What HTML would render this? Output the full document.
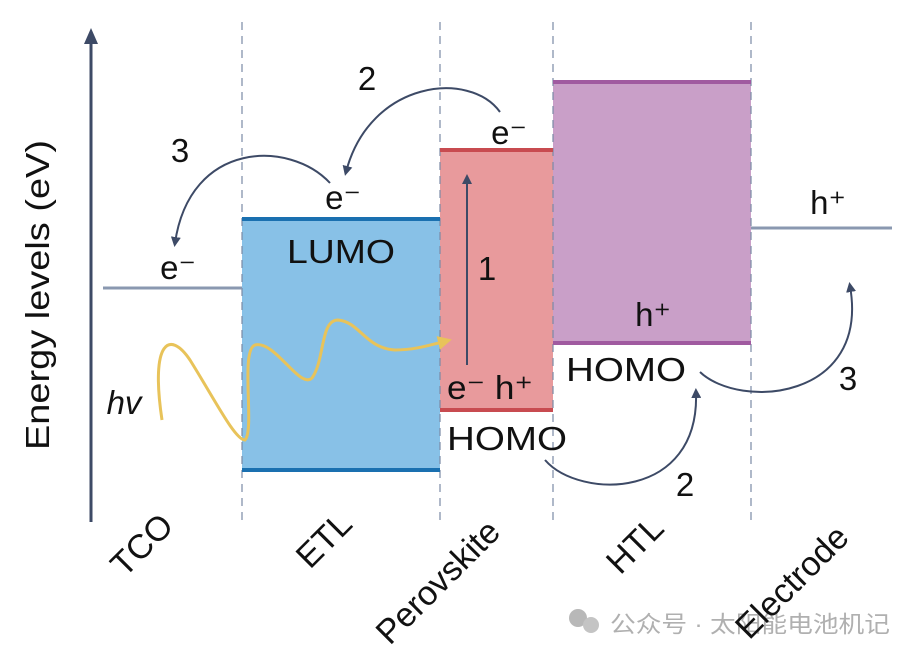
<!DOCTYPE html>
<html><head><meta charset="utf-8"><style>body{margin:0;background:#fff}svg{display:block}</style></head><body>
<svg width="922" height="658" viewBox="0 0 922 658" xmlns="http://www.w3.org/2000/svg" font-family="Liberation Sans, sans-serif">
<defs>
<marker id="a" markerWidth="10" markerHeight="10" refX="6" refY="5" orient="auto" markerUnits="userSpaceOnUse"><path d="M0,0 L10,5 L0,10 Z" fill="#3d4a66"/></marker>
<marker id="y" markerWidth="14" markerHeight="14" refX="8" refY="7" orient="auto" markerUnits="userSpaceOnUse"><path d="M0,0 L14,7 L0,14 Z" fill="#e8c35a"/></marker>
</defs>
<rect x="242" y="219" width="198" height="251" fill="#88c1e7"/>
<rect x="440" y="150" width="113" height="260" fill="#e89a9c"/>
<rect x="553" y="82" width="198" height="261" fill="#c99fc8"/>
<g stroke="#7a8aa5" stroke-width="1.2" stroke-dasharray="8,6">
<line x1="242" y1="22" x2="242" y2="520"/><line x1="440" y1="22" x2="440" y2="520"/><line x1="553" y1="22" x2="553" y2="520"/><line x1="751" y1="22" x2="751" y2="520"/>
</g>
<line x1="242" y1="219" x2="440" y2="219" stroke="#1a70b0" stroke-width="4"/>
<line x1="242" y1="470" x2="440" y2="470" stroke="#1a70b0" stroke-width="4"/>
<line x1="440" y1="150" x2="553" y2="150" stroke="#c84b50" stroke-width="4"/>
<line x1="440" y1="410" x2="553" y2="410" stroke="#c84b50" stroke-width="4"/>
<line x1="553" y1="82" x2="751" y2="82" stroke="#a05aa0" stroke-width="4"/>
<line x1="553" y1="343" x2="751" y2="343" stroke="#a05aa0" stroke-width="4"/>
<line x1="103" y1="288" x2="242" y2="288" stroke="#8a98b0" stroke-width="3"/>
<line x1="751" y1="228" x2="892" y2="228" stroke="#8a98b0" stroke-width="3"/>
<line x1="91" y1="522" x2="91" y2="40" stroke="#3d4a66" stroke-width="3"/>
<path d="M84,44 L91,28 L98,44 Z" fill="#3d4a66"/>
<line x1="467" y1="365" x2="467" y2="178" stroke="#3d4a66" stroke-width="2" marker-end="url(#a)"/>
<g fill="none" stroke="#3d4a66" stroke-width="2">
<path d="M500,112 C470,70 370,80 346,172" marker-end="url(#a)"/>
<path d="M330,183 C290,140 190,140 175,243" marker-end="url(#a)"/>
<path d="M545,460 C580,500 700,500 696,392" marker-end="url(#a)"/>
<path d="M700,372 C740,410 870,400 850,286" marker-end="url(#a)"/>
</g>
<path d="M162,420 C150,340 170,330 190,360 C215,400 235,440 245,440 C255,430 240,350 255,345 C275,340 300,390 312,378 C325,360 320,320 338,320 C360,322 365,348 395,350 C415,350 430,345 446,341" fill="none" stroke="#e8c35a" stroke-width="3" marker-end="url(#y)"/>
<g font-size="33" fill="#111" text-anchor="middle">
<text x="343" y="209">e⁻</text>
<text x="341" y="263" textLength="108" lengthAdjust="spacingAndGlyphs">LUMO</text>
<text x="178" y="279">e⁻</text>
<text x="180" y="162">3</text>
<text x="367" y="90">2</text>
<text x="509" y="144">e⁻</text>
<text x="487" y="280">1</text>
<text x="490" y="399" textLength="86" lengthAdjust="spacingAndGlyphs">e⁻ h⁺</text>
<text x="507" y="450" textLength="120" lengthAdjust="spacingAndGlyphs">HOMO</text>
<text x="653" y="326">h⁺</text>
<text x="626" y="381" textLength="120" lengthAdjust="spacingAndGlyphs">HOMO</text>
<text x="828" y="214">h⁺</text>
<text x="848" y="390">3</text>
<text x="685" y="496">2</text>
<text x="124" y="414" font-style="italic">hv</text>
<text transform="translate(49,295) rotate(-90)" textLength="310" lengthAdjust="spacingAndGlyphs">Energy levels (eV)</text>
</g>
<text x="610" y="632" font-size="23" fill="#b0b0b0" textLength="280" lengthAdjust="spacingAndGlyphs" font-family="Liberation Sans, Noto Sans CJK SC, sans-serif">公众号 · 太阳能电池机记</text>
<circle cx="578" cy="618" r="9" fill="#b8b8b8"/><circle cx="591" cy="625" r="8" fill="#c4c4c4"/>
<g font-size="34" fill="#111" text-anchor="middle">
<text transform="translate(150,553) rotate(-45)">TCO</text>
<text transform="translate(332,548) rotate(-45)">ETL</text>
<text transform="translate(446,590) rotate(-45)">Perovskite</text>
<text transform="translate(643,553) rotate(-45)">HTL</text>
<text transform="translate(800,590) rotate(-45)">Electrode</text>
</g>
</svg>
</body></html>
